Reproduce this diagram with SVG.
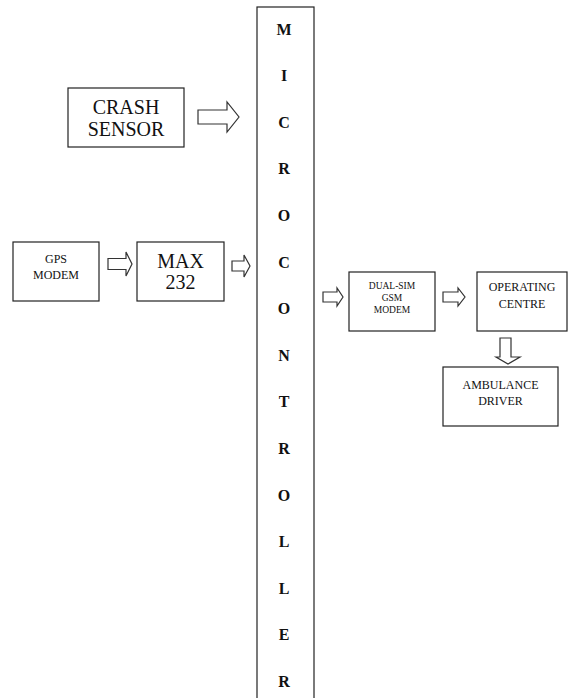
<svg xmlns="http://www.w3.org/2000/svg" width="569" height="698" viewBox="0 0 569 698" font-family="'Liberation Serif', 'Times New Roman', 'DejaVu Serif', serif">
<style>
.box{fill:#fff;stroke:#222;stroke-width:1.2}
.arr{fill:#fff;stroke:#333;stroke-width:1.2;stroke-linejoin:miter}
text{fill:#111;text-anchor:middle}
.big{font-size:20px}
.mid{font-size:12px}
.sm{font-size:9.5px}
.mc{font-size:16px;font-weight:bold}
</style>
<rect width="569" height="698" fill="#fff"/>
<g id="microcontroller">
<rect class="box" x="257" y="7" width="57" height="700"/>
<text class="mc" x="284" y="34.5">M</text>
<text class="mc" x="284" y="81.1">I</text>
<text class="mc" x="284" y="127.7">C</text>
<text class="mc" x="284" y="174.3">R</text>
<text class="mc" x="284" y="220.9">O</text>
<text class="mc" x="284" y="267.5">C</text>
<text class="mc" x="284" y="314.1">O</text>
<text class="mc" x="284" y="360.7">N</text>
<text class="mc" x="284" y="407.3">T</text>
<text class="mc" x="284" y="453.9">R</text>
<text class="mc" x="284" y="500.5">O</text>
<text class="mc" x="284" y="547.1">L</text>
<text class="mc" x="284" y="593.7">L</text>
<text class="mc" x="284" y="640.3">E</text>
<text class="mc" x="284" y="686.9">R</text>
</g>
<g id="crash-sensor">
<rect class="box" x="68" y="88" width="116" height="59"/>
<text class="big" x="126" y="114">CRASH</text>
<text class="big" x="126" y="136">SENSOR</text>
</g>
<g id="gps-modem">
<rect class="box" x="13" y="242" width="86" height="59"/>
<text class="mid" x="56" y="263" font-size="11">GPS</text>
<text class="mid" x="56" y="279">MODEM</text>
</g>
<g id="max232">
<rect class="box" x="137" y="242" width="87" height="59"/>
<text class="big" x="180.5" y="268">MAX</text>
<text class="big" x="180.5" y="289">232</text>
</g>
<g id="gsm-modem">
<rect class="box" x="349" y="272" width="86" height="59"/>
<text class="sm" x="392" y="289">DUAL-SIM</text>
<text class="sm" x="392" y="301">GSM</text>
<text class="sm" x="392" y="313">MODEM</text>
</g>
<g id="operating-centre">
<rect class="box" x="477" y="272" width="90" height="59"/>
<text class="mid" x="522" y="291">OPERATING</text>
<text class="mid" x="522" y="308">CENTRE</text>
</g>
<g id="ambulance-driver">
<rect class="box" x="443" y="367" width="115" height="59"/>
<text class="mid" x="500.5" y="389">AMBULANCE</text>
<text class="mid" x="500.5" y="405">DRIVER</text>
</g>
<g id="connectors">
<polygon class="arr" points="198,110 227,110 227,102 239,117 227,132 227,124 198,124"/>
<polygon class="arr" points="108,258.5 126,258.5 126,252 132,264 126,276 126,269.5 108,269.5"/>
<polygon class="arr" points="232,261 244,261 244,255 250,266 244,277 244,271 232,271"/>
<polygon class="arr" points="323,292 337,292 337,288 343,297 337,306 337,302 323,302"/>
<polygon class="arr" points="443,292 458,292 458,288 465,297 458,306 458,302 443,302"/>
<polygon class="arr" points="500,338 511,338 511,357 520,357 508,364 496,357 500,357"/>
</g>
</svg>
